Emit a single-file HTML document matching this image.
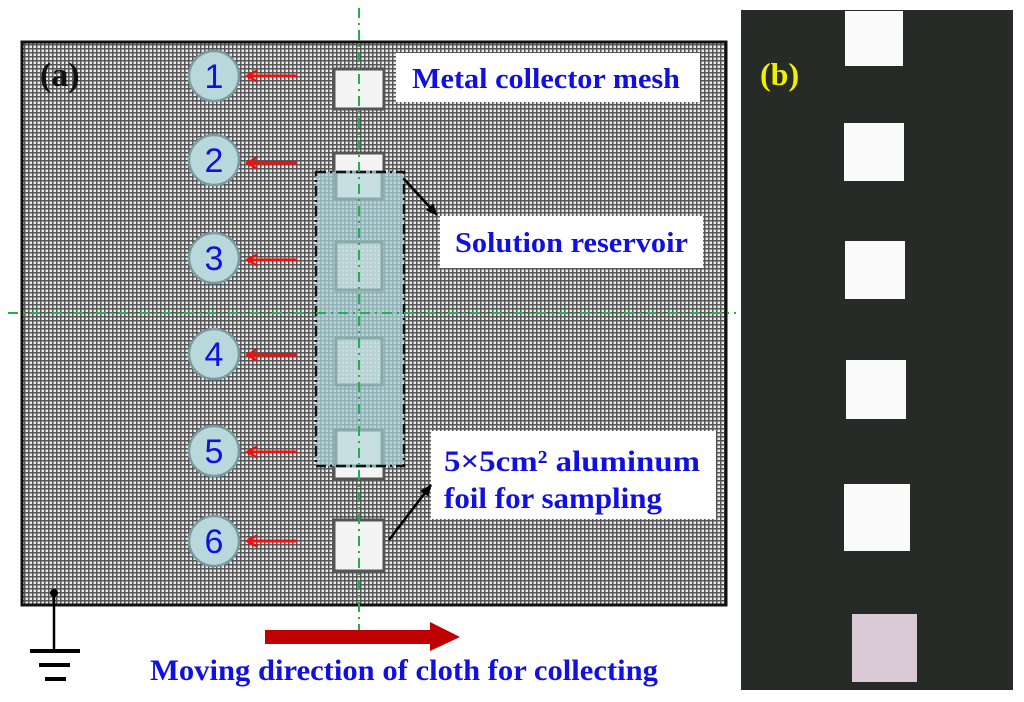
<!DOCTYPE html>
<html><head><meta charset="utf-8"><style>
html,body{margin:0;padding:0;background:#fff;width:1024px;height:702px;overflow:hidden}
svg{display:block}
.t{font-family:"Liberation Serif",serif;font-weight:bold;fill:#1010e0}
.n{font-family:"Liberation Sans",sans-serif;fill:#1010e0;font-size:34px}
</style></head><body>
<svg width="1024" height="702" viewBox="0 0 1024 702" xmlns="http://www.w3.org/2000/svg">
<defs>
<pattern id="mesh" width="4" height="4" patternUnits="userSpaceOnUse">
<rect width="4" height="4" fill="#555"/>
<rect x="1.5" y="1.5" width="2.5" height="2.5" fill="#ececec"/>
</pattern>
<marker id="ra" markerWidth="12" markerHeight="12" refX="10" refY="6" orient="auto" markerUnits="userSpaceOnUse">
<path d="M0,0 L11,6 L0,12" fill="none" stroke="#f01010" stroke-width="2.5"/>
</marker>
<marker id="ba" markerWidth="12" markerHeight="12" refX="11" refY="6" orient="auto" markerUnits="userSpaceOnUse">
<path d="M0,1 L12,6 L0,11 z" fill="#000"/>
</marker>
</defs>
<!-- panel a -->
<rect x="22" y="42" width="704" height="563" fill="url(#mesh)" stroke="#111" stroke-width="3"/>
<text x="40" y="86" font-family="Liberation Serif,serif" font-weight="bold" font-size="34" fill="#111">(a)</text>
<g fill="#f4f4f4" stroke="#555" stroke-width="3">
<rect x="334" y="69" width="50" height="40"/>
<rect x="334" y="153" width="50" height="46"/>
<rect x="334" y="430" width="50" height="49"/>
<rect x="334" y="520" width="50" height="51"/>
</g>
<rect x="316" y="172" width="88" height="294" fill="#a8d0d4" fill-opacity="0.75"/>
<g fill="#cfe3e5" fill-opacity="0.6" stroke="#8aa" stroke-width="3">
<rect x="336" y="172" width="46" height="27"/>
<rect x="336" y="242" width="46" height="48"/>
<rect x="336" y="338" width="46" height="47"/>
<rect x="336" y="430" width="46" height="36"/>
</g>
<rect x="316" y="172" width="88" height="294" fill="none" stroke="#111" stroke-width="2.5" stroke-dasharray="10,4,2,4"/>
<line x1="359" y1="8" x2="359" y2="640" stroke="#20b050" stroke-width="2" stroke-dasharray="10,5,2,5"/>
<line x1="8" y1="313" x2="736" y2="313" stroke="#20b050" stroke-width="2" stroke-dasharray="10,5,2,5"/>
<rect x="396" y="53" width="304" height="49" fill="#fff"/>
<text class="t" x="412" y="88" font-size="29" textLength="268" lengthAdjust="spacingAndGlyphs">Metal collector mesh</text>
<rect x="440" y="216" width="263" height="52" fill="#fff"/>
<text class="t" x="455" y="252" font-size="29" textLength="233" lengthAdjust="spacingAndGlyphs">Solution reservoir</text>
<rect x="431" y="431" width="285" height="88" fill="#fff"/>
<text class="t" x="444" y="471" font-size="30" textLength="256" lengthAdjust="spacingAndGlyphs">5×5cm² aluminum</text>
<text class="t" x="444" y="508" font-size="30" textLength="218" lengthAdjust="spacingAndGlyphs">foil for sampling</text>
<line x1="404" y1="179" x2="437" y2="215" stroke="#000" stroke-width="2.5" marker-end="url(#ba)"/>
<line x1="389" y1="540" x2="431" y2="485" stroke="#000" stroke-width="2.5" marker-end="url(#ba)"/>
<g fill="#b8d8dc" stroke="#7a9a9e" stroke-width="2.5">
<circle cx="214" cy="76" r="25"/><circle cx="214" cy="160" r="25"/><circle cx="214" cy="258" r="25"/>
<circle cx="214" cy="354" r="25"/><circle cx="214" cy="451" r="25"/><circle cx="214" cy="541" r="25"/>
</g>
<g class="n" text-anchor="middle">
<text x="214" y="88">1</text><text x="214" y="172">2</text><text x="214" y="270">3</text>
<text x="214" y="366">4</text><text x="214" y="463">5</text><text x="214" y="553">6</text>
</g>
<g stroke="#f01010" stroke-width="3" marker-end="url(#ra)">
<line x1="297" y1="76" x2="248" y2="76"/><line x1="297" y1="163" x2="248" y2="163"/>
<line x1="297" y1="260" x2="248" y2="260"/><line x1="297" y1="355" x2="248" y2="355"/>
<line x1="297" y1="452" x2="248" y2="452"/><line x1="297" y1="541" x2="248" y2="541"/>
</g>
<circle cx="54" cy="593" r="4" fill="#000"/>
<line x1="54" y1="593" x2="54" y2="651" stroke="#000" stroke-width="2.5"/>
<rect x="30" y="649" width="50" height="4" fill="#000"/>
<rect x="39" y="663" width="31" height="4" fill="#000"/>
<rect x="45" y="677" width="21" height="4" fill="#000"/>
<path d="M265,630 L430,630 L430,622 L460,637 L430,651 L430,644 L265,644 z" fill="#c00000"/>
<text class="t" x="150" y="680" font-size="30" textLength="508" lengthAdjust="spacingAndGlyphs">Moving direction of cloth for collecting</text>
<!-- panel b -->
<rect x="741" y="10" width="272" height="680" fill="#272b27"/>
<text x="760" y="85" font-family="Liberation Serif,serif" font-weight="bold" font-size="32" fill="#f0f000">(b)</text>
<g fill="#fafafa">
<rect x="845" y="11" width="58" height="55"/>
<rect x="844" y="123" width="60" height="58"/>
<rect x="845" y="241" width="60" height="58"/>
<rect x="846" y="360" width="60" height="59"/>
<rect x="844" y="484" width="66" height="67"/>
</g>
<rect x="852" y="614" width="65" height="68" fill="#d9c8d6"/>
</svg>
</body></html>
